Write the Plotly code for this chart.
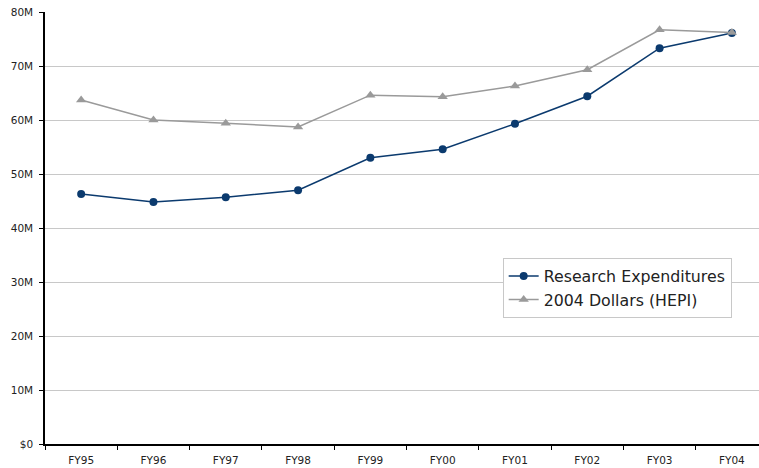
import plotly.graph_objects as go

categories = ["FY95", "FY96", "FY97", "FY98", "FY99", "FY00", "FY01", "FY02", "FY03", "FY04"]
research = [46.3, 44.8, 45.7, 47.0, 53.0, 54.6, 59.3, 64.4, 73.3, 76.1]
hepi = [63.7, 60.0, 59.4, 58.7, 64.6, 64.3, 66.3, 69.3, 76.7, 76.2]
ytickvals = [0, 10, 20, 30, 40, 50, 60, 70, 80]
yticktext = ["$0", "10M", "20M", "30M", "40M", "50M", "60M", "70M", "80M"]

fig = go.Figure()
fig.add_trace(go.Scatter(x=categories, y=research, name="Research Expenditures",
                         mode="lines+markers", legendgroup="a",
                         line=dict(color="#0b3a6e", width=1.5),
                         marker=dict(symbol="circle", size=8, color="#0b3a6e")))
fig.add_trace(go.Scatter(x=categories, y=hepi, name="2004 Dollars (HEPI)",
                         mode="lines+markers", legendgroup="b",
                         line=dict(color="#9a9a9a", width=1.5),
                         marker=dict(symbol="triangle-up", size=9, color="#9a9a9a")))

font = dict(family="DejaVu Sans, Verdana, sans-serif", size=10.5, color="#222222")
fig.update_layout(
    width=759, height=468,
    margin=dict(l=45, r=0, t=12, b=24),
    paper_bgcolor="white", plot_bgcolor="white",
    font=font,
    showlegend=True,
    legend=dict(x=0.641, y=0.43, xanchor="left", yanchor="top",
                tracegroupgap=5, traceorder="normal",
                bordercolor="#c8c8c8", borderwidth=1, bgcolor="white",
                font=dict(family="DejaVu Sans, Verdana, sans-serif", size=15.8, color="#222222")),
    xaxis=dict(type="category", range=[-0.5, 9.375], tickson="boundaries",
               ticks="outside", ticklen=4, tickcolor="black", automargin=False,
               ticklabelstandoff=6,
               showline=True, linecolor="black", linewidth=1.5,
               showgrid=False, fixedrange=True),
    yaxis=dict(range=[0, 80], tickvals=ytickvals, ticktext=yticktext,
               ticks="outside", ticklen=4, tickcolor="black", automargin=False,
               ticklabelstandoff=4,
               showline=True, linecolor="black", linewidth=1.5,
               showgrid=True, gridcolor="#c8c8c8", gridwidth=1,
               zeroline=False, fixedrange=True),
)
fig.write_html("out.html", config={"displayModeBar": False},
               post_script="document.body.style.margin='0';")
